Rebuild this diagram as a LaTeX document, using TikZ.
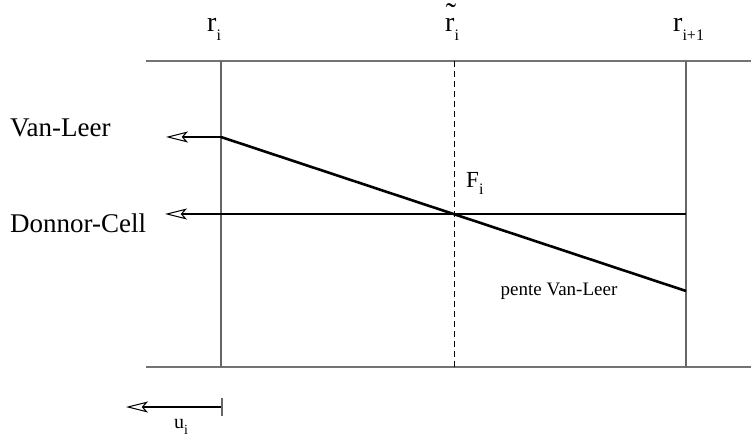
\documentclass[tikz,border=0pt]{standalone}
\usepackage{fontspec}
\setmainfont{Liberation Serif}
\usetikzlibrary{arrows.meta}
\newcommand{\lsub}[2][16]{\raisebox{-0.3em}{\fontsize{#1}{#1}\selectfont #2}}
\begin{document}
\begin{tikzpicture}[x=1pt,y=-1pt,
  grid/.style={draw=black!55,line width=1.1pt},
  gridv/.style={draw=black!60,line width=1.1pt},
  opentip/.style={-{Stealth[open,length=22pt,width=11pt,inset=5pt,line width=1pt,fill=white]}},
  lbl/.style={inner sep=0pt,font=\fontsize{27}{27}\selectfont},
  toplbl/.style={inner sep=0pt,anchor=base west,font=\fontsize{28}{28}\selectfont},
]
\useasboundingbox (0,0) rectangle (751,443);
% frame
\coordinate (tl) at (146,61);
\coordinate (tr) at (751,61);
\coordinate (bl) at (146,367);
\coordinate (br) at (751,367);
\draw[grid] (tl) -- (tr);
\draw[grid] (bl) -- (br);
\coordinate (a1) at (221,61); \coordinate (a2) at (221,367);
\coordinate (b1) at (454,61); \coordinate (b2) at (454,367);
\coordinate (c1) at (686,61); \coordinate (c2) at (686,367);
\draw[gridv] (a1) -- (a2);
\draw[black,line width=1pt,dash pattern=on 6pt off 4pt] (b1) -- (b2);
\draw[gridv] (c1) -- (c2);
% labels top
\node[toplbl] (ri) at (207,32) {r\lsub{i}};
\node[toplbl] (rti) at (445,32) {r\lsub{i}};
\node[inner sep=0pt,anchor=base,font=\fontsize{31}{31}\selectfont] (tld) at (451,25) {\char"02DC};
\node[toplbl] (rip) at (673,32) {r\lsub{i+1}};
% Van-Leer
\node[lbl,anchor=base west] (vl) at (10,137) {Van-Leer};
\node[lbl,anchor=base west] (dc) at (10,233) {Donnor-Cell};
\coordinate (vlt) at (166,137);
\coordinate (vls) at (221,137);
\coordinate (vle) at (686,291);
\coordinate (dct) at (165,214);
\coordinate (dce) at (686,214);
\draw[line width=2.6pt] (vle) -- (vls);
\draw[line width=2.6pt,opentip] (vls) -- (vlt);
\draw[line width=1.6pt,opentip] (dce) -- (dct);
\node[inner sep=0pt,anchor=base west,font=\fontsize{23}{23}\selectfont] (fi) at (466,188) {F\lsub[16]{i}};
\node[inner sep=0pt,anchor=base,font=\fontsize{19}{19}\selectfont] (pente) at (559,295) {pente Van-Leer};
% u_i
\coordinate (ut) at (126,407);
\coordinate (us) at (221,407);
\draw[line width=2.6pt,opentip] (us) -- (ut);
\draw[gridv] (222,398) -- (222,416);
\node[inner sep=0pt,anchor=base west,font=\fontsize{20}{20}\selectfont] (ui) at (174,428) {u\lsub[14]{i}};
\end{tikzpicture}
\end{document}
